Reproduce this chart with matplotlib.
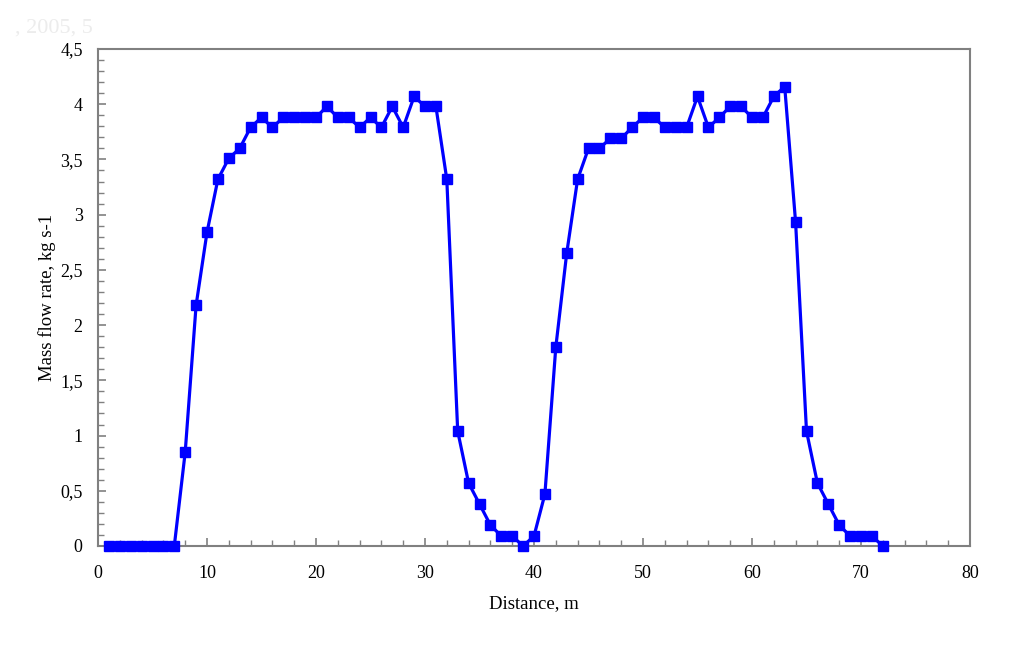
import matplotlib
matplotlib.use("Agg")
import matplotlib.pyplot as plt
from matplotlib.ticker import MultipleLocator, FuncFormatter

distance = list(range(1, 73))
mass_flow = [0, 0, 0, 0, 0, 0, 0, 0.85, 2.18, 2.84,
             3.32, 3.51, 3.60, 3.79, 3.88, 3.79, 3.88, 3.88, 3.88, 3.88,
             3.98, 3.88, 3.88, 3.79, 3.88, 3.79, 3.98, 3.79, 4.07, 3.98,
             3.98, 3.32, 1.04, 0.57, 0.38, 0.19, 0.09, 0.09, 0.0, 0.09,
             0.47, 1.80, 2.65, 3.32, 3.60, 3.60, 3.69, 3.69, 3.79, 3.88,
             3.88, 3.79, 3.79, 3.79, 4.07, 3.79, 3.88, 3.98, 3.98, 3.88,
             3.88, 4.07, 4.16, 2.93, 1.04, 0.57, 0.38, 0.19, 0.09, 0.09,
             0.09, 0.0]

plt.rcParams['font.family'] = ['Liberation Serif', 'DejaVu Serif']

fig = plt.figure(figsize=(10.24, 6.47), dpi=100)
ax = fig.add_axes([98/1024, 1-546/647, (970-98)/1024, (546-49)/647])

ax.plot(distance, mass_flow, color='#0000FF', lw=2.3, marker='s', ms=7.5,
        mec='#0000FF', mfc='#0000FF', clip_on=False, zorder=3)

ax.set_xlim(0, 80)
ax.set_ylim(0, 4.5)
ax.xaxis.set_major_locator(MultipleLocator(10))
ax.xaxis.set_minor_locator(MultipleLocator(2))
ax.yaxis.set_major_locator(MultipleLocator(0.5))
ax.yaxis.set_minor_locator(MultipleLocator(0.1))

def comma(v, pos):
    s = ('%g' % round(v, 2))
    return s.replace('.', ',')
ax.yaxis.set_major_formatter(FuncFormatter(comma))

for sp in ax.spines.values():
    sp.set_color('#808080')
    sp.set_linewidth(1.5)

ax.tick_params(which='both', direction='in', color='#808080', top=False, right=False,
               labelsize=13)
ax.tick_params(which='major', length=6, width=1.2)
ax.tick_params(which='minor', length=4, width=1.0)
ax.tick_params(axis='x', which='major', pad=14)
ax.tick_params(axis='y', which='major', pad=11)

ax.set_xlabel('Distance, m', fontsize=13.5, labelpad=9)
ax.set_ylabel('Mass flow rate, kg s-1', fontsize=13.5, labelpad=3)

fig.text(15/1024, 1-28/647, ', 2005, 5', color='#ececec', fontsize=16, va='center')

fig.savefig('out.png', dpi=100)
